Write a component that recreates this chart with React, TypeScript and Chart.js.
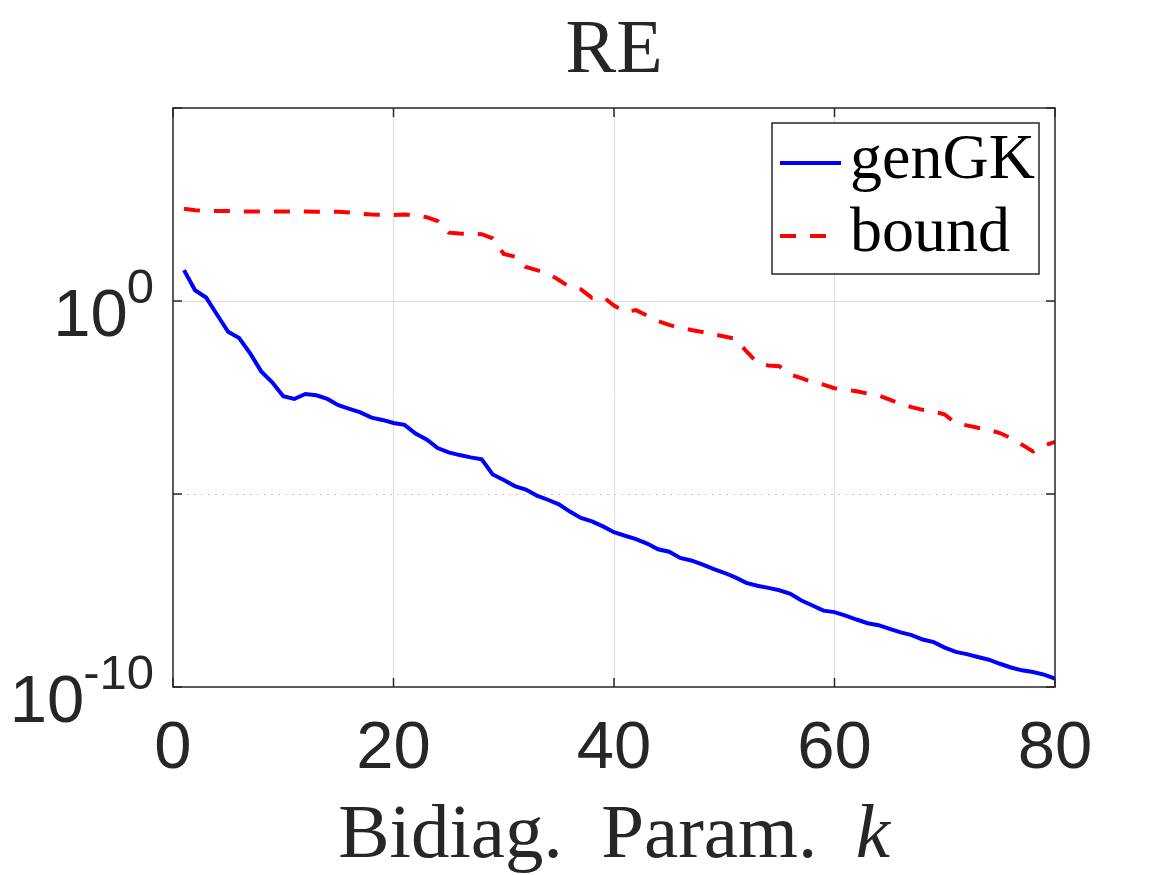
import React, { useEffect, useRef } from 'react';
import { Chart, registerables } from 'chart.js';

Chart.register(...registerables);

const kValues = [
  1, 2, 3, 4, 5, 6, 7, 8, 9, 10,
  11, 12, 13, 14, 15, 16, 17, 18, 19, 20,
  21, 22, 23, 24, 25, 26, 27, 28, 29, 30,
  31, 32, 33, 34, 35, 36, 37, 38, 39, 40,
  41, 42, 43, 44, 45, 46, 47, 48, 49, 50,
  51, 52, 53, 54, 55, 56, 57, 58, 59, 60,
  61, 62, 63, 64, 65, 66, 67, 68, 69, 70,
  71, 72, 73, 74, 75, 76, 77, 78, 79, 80,
];

const genGK = [
  6.3, 1.9, 1.23, 4.4e-1, 1.6e-1, 1.1e-1, 4.4e-2, 1.5e-2, 7.8e-3, 3.4e-3,
  2.9e-3, 3.9e-3, 3.6e-3, 2.9e-3, 2.0e-3, 1.6e-3, 1.3e-3, 9.5e-4, 8.3e-4, 6.9e-4,
  6.2e-4, 3.7e-4, 2.6e-4, 1.55e-4, 1.2e-4, 1.02e-4, 8.9e-5, 7.9e-5, 3.2e-5, 2.3e-5,
  1.6e-5, 1.3e-5, 9.1e-6, 7.1e-6, 5.4e-6, 3.5e-6, 2.4e-6, 1.95e-6, 1.45e-6, 1.02e-6,
  8.3e-7, 6.8e-7, 5.2e-7, 3.7e-7, 3.2e-7, 2.2e-7, 1.9e-7, 1.5e-7, 1.15e-7, 9.1e-8,
  6.9e-8, 5.0e-8, 4.2e-8, 3.7e-8, 3.2e-8, 2.6e-8, 1.74e-8, 1.29e-8, 9.5e-9, 8.7e-9,
  7.1e-9, 5.6e-9, 4.5e-9, 4.0e-9, 3.2e-9, 2.6e-9, 2.2e-9, 1.7e-9, 1.45e-9, 1.05e-9,
  8.1e-10, 7.1e-10, 6.0e-10, 5.1e-10, 4.0e-10, 3.2e-10, 2.7e-10, 2.45e-10, 2.1e-10, 1.66e-10,
];

const bound = [
  245, 224, 219, 214, 214, 209, 209, 209, 209, 209,
  209, 209, 204, 204, 204, 195, 182, 174, 170, 170,
  174, 170, 148, 118, 59, 56, 55, 54, 42, 16.6,
  14.1, 7.6, 6.3, 5.2, 3.5, 2.3, 2.0, 1.2, 1.29, 0.76,
  0.52, 0.58, 0.42, 0.30, 0.24, 0.20, 0.178, 0.158, 0.138, 0.12,
  0.105, 0.050, 0.025, 0.0214, 0.0204, 0.0126, 0.0100, 0.0079, 0.0068, 0.0055,
  0.0050, 0.0046, 0.0040, 0.0036, 0.0028, 0.00214, 0.00178, 0.00151, 0.00138, 0.00115,
  6.8e-4, 6.0e-4, 5.2e-4, 4.6e-4, 3.8e-4, 2.8e-4, 1.9e-4, 1.26e-4, 1.78e-4, 2.24e-4,
];

const xTicks = [0, 20, 40, 60, 80];
const yTicks = [1e-10, 1e-5, 1e0, 1e5];
const yTickLabels = [
  { value: 1e0, base: '10', exp: '0' },
  { value: 1e-10, base: '10', exp: '-10' },
];
const seriesNames = ['genGK', 'bound'];
const titleText = 'RE';
const xLabelText = 'Bidiag.  Param.  ';
const xLabelItalic = 'k';

const INK = '#262626';
const SANS = '"Liberation Sans", Arial, sans-serif';
const SERIF = '"Liberation Serif", "Times New Roman", serif';

const framePlugin = {
  id: 'matlabFrame',
  afterDraw(chart: any) {
    const { ctx, chartArea: a, scales } = chart;
    const xs = scales.x;
    const ys = scales.y;
    ctx.save();
    const line = (x1: number, y1: number, x2: number, y2: number) => {
      ctx.beginPath();
      ctx.moveTo(x1, y1);
      ctx.lineTo(x2, y2);
      ctx.stroke();
    };
    // inward tick marks
    ctx.strokeStyle = INK;
    ctx.lineWidth = 1.5;
    ctx.setLineDash([]);
    const tl = 9;
    xTicks.forEach((v) => {
      const px = xs.getPixelForValue(v);
      line(px, a.bottom, px, a.bottom - tl);
      line(px, a.top, px, a.top + tl);
    });
    yTicks.forEach((v) => {
      const py = ys.getPixelForValue(v);
      line(a.left, py, a.left + tl, py);
      line(a.right, py, a.right - tl, py);
    });
    // box
    ctx.strokeRect(a.left, a.top, a.right - a.left, a.bottom - a.top);

    // y tick labels with superscripts
    ctx.fillStyle = INK;
    ctx.textAlign = 'right';
    ctx.textBaseline = 'alphabetic';
    const labelRight = a.left - 19;
    yTickLabels.forEach((t) => {
      const py = ys.getPixelForValue(t.value);
      ctx.font = `49px ${SANS}`;
      const ew = ctx.measureText(t.exp).width;
      ctx.fillText(t.exp, labelRight, py + 2);
      ctx.font = `67px ${SANS}`;
      ctx.fillText(t.base, labelRight - ew + 1, py + 35);
    });

    // title
    const cx = (a.left + a.right) / 2;
    ctx.textAlign = 'center';
    ctx.font = `76px ${SERIF}`;
    ctx.fillText(titleText, cx, 72);

    // x axis label
    ctx.font = `77px ${SERIF}`;
    const w1 = ctx.measureText(xLabelText).width;
    ctx.font = `italic 77px ${SERIF}`;
    const w2 = ctx.measureText(xLabelItalic).width;
    const sx = cx - (w1 + w2) / 2;
    ctx.textAlign = 'left';
    ctx.font = `77px ${SERIF}`;
    ctx.fillText(xLabelText, sx, 857);
    ctx.font = `italic 77px ${SERIF}`;
    ctx.fillText(xLabelItalic, sx + w1, 857);

    // legend
    const lx = 772, ly = 123, lw = 267, lh = 151;
    ctx.fillStyle = '#ffffff';
    ctx.fillRect(lx, ly, lw, lh);
    ctx.strokeStyle = INK;
    ctx.lineWidth = 1.5;
    ctx.strokeRect(lx, ly, lw, lh);
    const ds = chart.data.datasets;
    const rows = [163, 236];
    ds.forEach((d: any, i: number) => {
      ctx.strokeStyle = d.borderColor;
      ctx.lineWidth = 4;
      ctx.setLineDash(d.borderDash || []);
      line(780, rows[i], i === 0 ? 841 : 828, rows[i]);
      ctx.setLineDash([]);
      ctx.fillStyle = '#000000';
      ctx.font = `64px ${SERIF}`;
      ctx.textAlign = 'left';
      ctx.fillText(d.label, 850, rows[i] + 15);
    });
    ctx.restore();
  },
};

export default function App() {
  const canvasRef = useRef<HTMLCanvasElement | null>(null);

  useEffect(() => {
    if (!canvasRef.current) return;
    const gridColor = '#dedede';
    const chart = new Chart(canvasRef.current, {
      type: 'line',
      data: {
        datasets: [
          {
            label: seriesNames[0],
            data: kValues.map((k, i) => ({ x: k, y: genGK[i] })),
            borderColor: '#0000ff',
            borderWidth: 4,
            pointRadius: 0,
            tension: 0,
            fill: false,
          },
          {
            label: seriesNames[1],
            data: kValues.map((k, i) => ({ x: k, y: bound[i] })),
            borderColor: '#ff0000',
            borderWidth: 4,
            borderDash: [16, 14],
            pointRadius: 0,
            tension: 0,
            fill: false,
          },
        ],
      },
      options: {
        animation: false,
        responsive: true,
        maintainAspectRatio: false,
        layout: { padding: { left: 0, top: 108, right: 112, bottom: 0 } },
        plugins: {
          legend: { display: false },
          tooltip: { enabled: false },
          title: { display: false },
        },
        scales: {
          x: {
            type: 'linear',
            min: 0,
            max: 80,
            afterBuildTicks: (s: any) => {
              s.ticks = xTicks.map((v) => ({ value: v }));
            },
            afterFit: (s: any) => {
              s.height = 188;
            },
            ticks: {
              color: INK,
              font: { family: SANS, size: 67, lineHeight: 1.2 },
              padding: 22,
              maxRotation: 0,
              autoSkip: false,
            },
            grid: {
              drawTicks: false,
              lineWidth: 1,
              color: (c: any) =>
                c.tick && c.tick.value > 0 && c.tick.value < 80 ? gridColor : 'rgba(0,0,0,0)',
            },
            border: { display: false },
          },
          y: {
            type: 'logarithmic',
            min: 1e-10,
            max: 1e5,
            afterBuildTicks: (s: any) => {
              s.ticks = yTicks.map((v) => ({ value: v }));
            },
            afterFit: (s: any) => {
              s.width = 173;
            },
            ticks: { display: false },
            grid: {
              drawTicks: false,
              lineWidth: 1,
              color: (c: any) => {
                const v = c.tick ? c.tick.value : null;
                if (v === 1e0) return gridColor;
                if (v === 1e-5) return '#c4c4c4';
                return 'rgba(0,0,0,0)';
              },
            },
            border: {
              display: false,
              dash: (c: any) => (c.tick && c.tick.value === 1e-5 ? [2, 5] : []),
            },
          },
        },
      },
      plugins: [framePlugin],
    } as any);
    return () => chart.destroy();
  }, []);

  return (
    <div style={{ position: 'fixed', left: 0, top: 0, width: 1167, height: 875, background: '#ffffff' }}>
      <canvas ref={canvasRef} />
    </div>
  );
}
